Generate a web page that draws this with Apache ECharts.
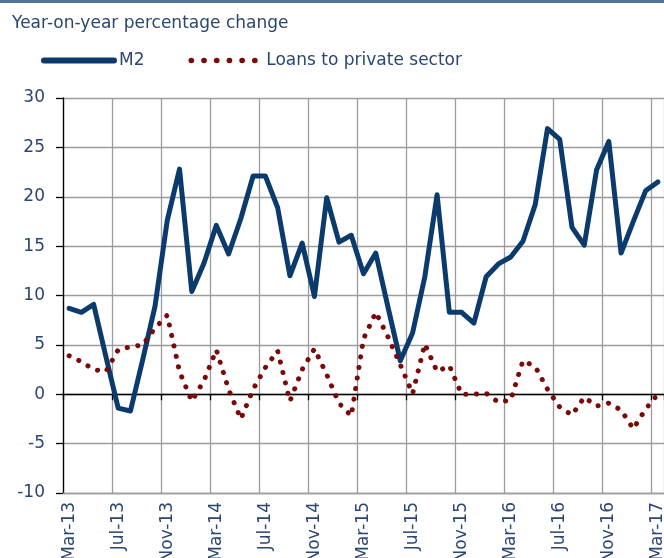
<!DOCTYPE html>
<html>
<head>
<meta charset="utf-8">
<script src="https://cdn.jsdelivr.net/npm/echarts@6/dist/echarts.min.js"></script>
<style>
html,body{margin:0;padding:0;background:#fff;}
#chart{width:664px;height:558px;}
</style>
</head>
<body>
<div id="chart"></div>
<script>
const titleText = 'Year-on-year percentage change';
const categories = [
  'Mar-13','Apr-13','May-13','Jun-13','Jul-13','Aug-13','Sep-13','Oct-13','Nov-13','Dec-13','Jan-14','Feb-14',
  'Mar-14','Apr-14','May-14','Jun-14','Jul-14','Aug-14','Sep-14','Oct-14','Nov-14','Dec-14','Jan-15','Feb-15',
  'Mar-15','Apr-15','May-15','Jun-15','Jul-15','Aug-15','Sep-15','Oct-15','Nov-15','Dec-15','Jan-16','Feb-16',
  'Mar-16','Apr-16','May-16','Jun-16','Jul-16','Aug-16','Sep-16','Oct-16','Nov-16','Dec-16','Jan-17','Feb-17',
  'Mar-17'
];
const m2Values = [
  8.7, 8.3, 9.1, 3.8, -1.4, -1.7, 3.5, 8.9, 17.6, 22.8, 10.4, 13.3,
  17.1, 14.2, 17.8, 22.1, 22.1, 18.9, 12.0, 15.3, 9.9, 19.9, 15.4, 16.1,
  12.2, 14.3, 8.8, 3.4, 6.2, 11.9, 20.2, 8.3, 8.3, 7.2, 11.9, 13.2,
  13.9, 15.5, 19.2, 26.9, 25.8, 16.9, 15.1, 22.7, 25.6, 14.3, 17.5, 20.6,
  21.5
];
const loansValues = [
  3.9, 3.3, 2.5, 2.3, 4.5, 4.8, 5.0, 6.7, 8.0, 2.3, -0.7, 1.4,
  4.5, 0.5, -2.5, 0.5, 2.7, 4.4, -0.7, 2.5, 4.6, 2.0, -0.9, -2.2,
  5.6, 8.3, 5.8, 3.0, 0.05, 5.1, 2.3, 2.9, 0.0, 0.0, 0.1, -0.8,
  -0.6, 3.4, 2.8, 0.5, -1.3, -2.1, -0.3, -1.2, -0.9, -1.6, -3.5, -1.5,
  0.0
];
const seriesNames = ['M2', 'Loans to private sector'];
const yMin = -10, yMax = 30, yStep = 5;

const navy = '#0b3a6c';
const red = '#7a0a0a';
const textColor = '#2b4672';
const gridColor = '#9c9c9c';
const fontFamily = 'DejaVu Sans';
const dotDash = [0.1, 10.6];

const chart = echarts.init(document.getElementById('chart'));
chart.setOption({
  animation: false,
  backgroundColor: '#ffffff',
  textStyle: { fontFamily: fontFamily },
  graphic: [
    { type: 'rect', left: 0, top: 0, shape: { width: 664, height: 3 }, style: { fill: '#557596' } },
    { type: 'text', left: 12, top: 15, style: { text: titleText, fill: textColor, font: '17px "DejaVu Sans"' } }
  ],
  legend: {
    left: 36, top: 47,
    itemWidth: 70, itemHeight: 6, itemGap: 44,
    textStyle: { color: textColor, fontSize: 17, fontFamily: fontFamily },
    itemStyle: { opacity: 0 },
    data: [
      { name: seriesNames[0], lineStyle: { width: 6, color: navy, cap: 'round' } },
      { name: seriesNames[1], lineStyle: { width: 5.6, color: red, type: [0.1, 12.6], cap: 'round' } }
    ]
  },
  grid: { left: 63, right: 0, top: 98, bottom: 65, containLabel: false, outerBoundsMode: 'none' },
  xAxis: [
    {
      type: 'category', data: categories, boundaryGap: true, position: 'bottom',
      axisLine: { onZero: false, lineStyle: { color: gridColor, width: 1.3 } },
      axisTick: { show: false, interval: 3 },
      axisLabel: { interval: 3, rotate: 90, margin: 9, color: textColor, fontSize: 17, fontFamily: fontFamily },
      splitLine: { show: true, interval: 3, lineStyle: { color: gridColor, width: 1.3 } }
    },
    {
      type: 'category', data: categories, boundaryGap: true, position: 'bottom',
      axisLine: { onZero: true, lineStyle: { color: '#000', width: 1.3 } },
      axisTick: { show: true, interval: 3, length: 6, lineStyle: { color: '#000', width: 1.3 } },
      axisLabel: { show: false },
      splitLine: { show: false }
    }
  ],
  yAxis: {
    type: 'value', min: yMin, max: yMax, interval: yStep,
    axisLine: { show: true, onZero: false, lineStyle: { color: '#000', width: 1.3 } },
    axisTick: { show: true, length: 7, lineStyle: { color: '#000', width: 1.3 } },
    axisLabel: { margin: 18, color: textColor, fontSize: 17, fontFamily: fontFamily },
    splitLine: { show: true, lineStyle: { color: gridColor, width: 1.3 } }
  },
  series: [
    {
      name: seriesNames[0], type: 'line', data: m2Values, xAxisIndex: 0,
      symbol: 'none', smooth: false,
      lineStyle: { color: navy, width: 5, cap: 'round', join: 'round' },
      itemStyle: { color: navy },
      z: 3
    },
    {
      name: seriesNames[1], type: 'line', data: loansValues, xAxisIndex: 0,
      symbol: 'none', smooth: false,
      lineStyle: { color: red, width: 5, type: dotDash, cap: 'round', join: 'round' },
      itemStyle: { color: red },
      z: 4
    }
  ]
});
</script>
</body>
</html>
